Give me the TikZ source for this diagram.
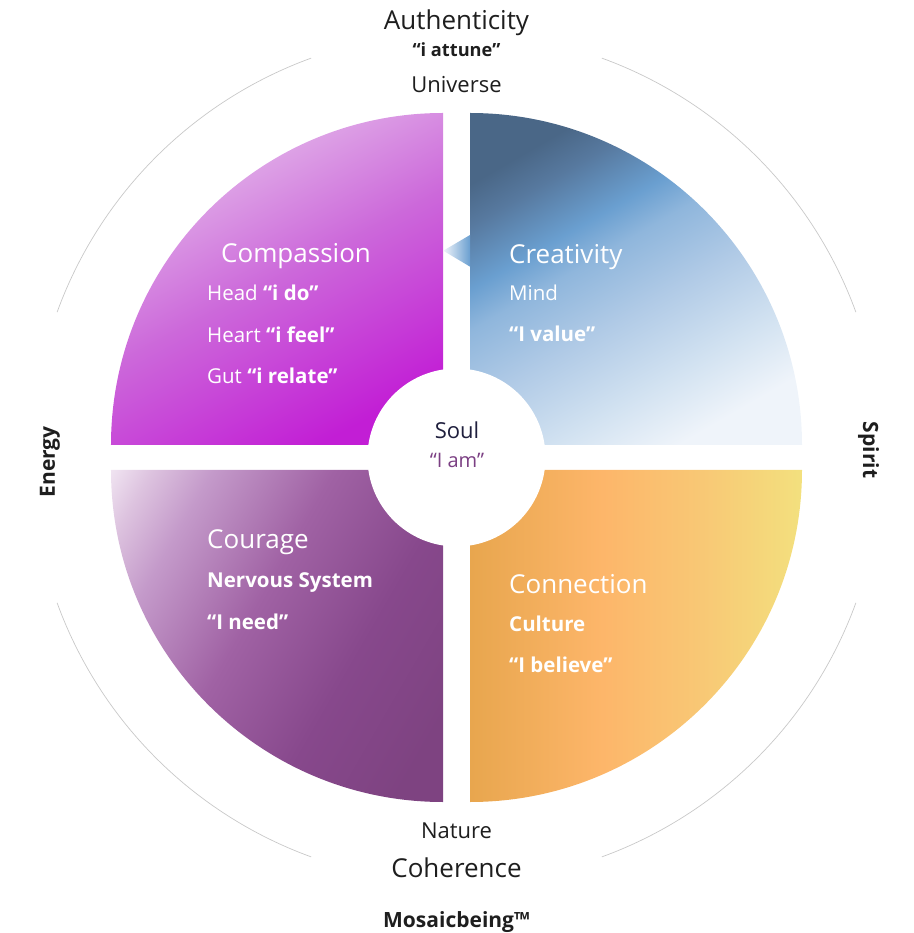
\documentclass[tikz,border=0pt]{standalone}
\usepackage{fontspec}
\setmainfont{Open Sans}
\usetikzlibrary{positioning}

\definecolor{compLight}{HTML}{E6C0EC}
\definecolor{compMid}{HTML}{CC68DA}
\definecolor{compDark}{HTML}{C21ED5}
\definecolor{creaDark}{HTML}{4A6787}
\definecolor{creaDusk}{HTML}{57799F}
\definecolor{creaMid}{HTML}{6A9FD0}
\definecolor{creaSoft}{HTML}{8FB6DC}
\definecolor{creaPale}{HTML}{B0CAE6}
\definecolor{creaMist}{HTML}{D2E2F1}
\definecolor{creaLight}{HTML}{EFF4FA}
\definecolor{courLight}{HTML}{F6EEF7}
\definecolor{courPale}{HTML}{DDC3DF}
\definecolor{courSoft}{HTML}{C49ACA}
\definecolor{courMid}{HTML}{A062A4}
\definecolor{courDeep}{HTML}{87488C}
\definecolor{courDark}{HTML}{7E4381}
\definecolor{connLeft}{HTML}{E8A64E}
\definecolor{connMid}{HTML}{FDB66A}
\definecolor{connWarm}{HTML}{F8C875}
\definecolor{connRight}{HTML}{F3E07E}
\definecolor{ink}{HTML}{1E1E1E}
\definecolor{soulInk}{HTML}{1F1F3D}
\definecolor{amInk}{HTML}{7B3F83}
\definecolor{ringGray}{HTML}{C8C8C8}

% stops tuned to the part of each shading the quarter covers
\pgfdeclareverticalshading{creaShade}{100bp}{color(0bp)=(creaLight); color(25bp)=(creaLight);
    color(34.5bp)=(creaMist); color(46bp)=(creaPale); color(55.8bp)=(creaSoft);
    color(61.2bp)=(creaMid); color(69.5bp)=(creaDusk); color(75bp)=(creaDark); color(100bp)=(creaDark)}
\pgfdeclareverticalshading{courShade}{100bp}{color(0bp)=(courDark); color(22bp)=(courDark);
    color(38bp)=(courDeep); color(55bp)=(courMid); color(71bp)=(courSoft);
    color(79bp)=(courPale); color(86bp)=(courLight); color(100bp)=(courLight)}
\pgfdeclareverticalshading{connShade}{100bp}{color(0bp)=(connRight); color(25bp)=(connRight);
    color(40bp)=(connWarm); color(55bp)=(connMid); color(75bp)=(connLeft); color(100bp)=(connLeft)}

\begin{document}
\begin{tikzpicture}[
    x=1pt, y=1pt,
    qtitle/.style={
        text=white,
        font=\fontsize{26}{30}\selectfont,
        anchor=base west,
        inner sep=0pt
    },
    subline/.style={
        text=white,
        font=\fontsize{20.5}{24}\selectfont,
        anchor=base west,
        inner sep=0pt
    },
    boldline/.style={subline, font=\fontsize{20.5}{24}\selectfont\bfseries},
    outer/.style={
        text=ink,
        font=\fontsize{22}{26}\selectfont,
        anchor=base,
        inner sep=0pt
    },
    bigouter/.style={outer, font=\fontsize{26}{30}\selectfont},
    side/.style={text=ink, font=\fontsize{21}{25}\selectfont\bfseries, inner sep=0pt},
    ring/.style={draw=ringGray, line width=0.7pt}
]
\useasboundingbox (-456.5,-475.5) rectangle (456.5,457.5);

% quarters
\shade[top color=compLight, bottom color=compDark, middle color=compMid, shading angle=28]
    (-13.5,12.5) -- (-345.5,12.5) arc[start angle=180, end angle=90, radius=332] -- cycle;
\shade[shading=creaShade, shading angle=30]
    (13.5,12.5) -- (13.5,344.5) arc[start angle=90, end angle=0, radius=332] -- cycle;
\shade[shading=connShade, shading angle=90]
    (13.5,-12.5) -- (345.5,-12.5) arc[start angle=0, end angle=-90, radius=332] -- cycle;
\shade[shading=courShade, shading angle=60]
    (-13.5,-12.5) -- (-13.5,-344.5) arc[start angle=270, end angle=180, radius=332] -- cycle;

% pointer
\shade[top color=creaLight, bottom color=creaMid, shading angle=90]
    (-13.2,206.8) -- (13.5,222.5) -- (13.5,190.8) -- cycle;

% centre
\fill[white] (0,0) circle[radius=89];

% outer ring
\foreach \a in {20,110,200,290}
    \draw[ring] (\a:425) arc[start angle=\a, end angle=\a+50, radius=425];

% compassion
\node[qtitle] (compassion) at (-235.5,194.5) {Compassion};
\node[subline] (head) at (-249.5,156.5) {Head \textbf{“i do”}};
\node[below=41.5pt of head.base west, subline] (heart) {Heart \textbf{“i feel”}};
\node[below=41.5pt of heart.base west, subline] (gut) {Gut \textbf{“i relate”}};

% creativity
\node[qtitle] (creativity) at (52.5,193.5) {Creativity};
\node[below=37pt of creativity.base west, subline] (mind) {Mind};
\node[below=41pt of mind.base west, boldline] (value) {“I value”};

% courage
\node[qtitle] (courage) at (-249.5,-91.5) {Courage};
\node[below=38pt of courage.base west, boldline] (nervous) {Nervous System};
\node[below=42pt of nervous.base west, boldline] (need) {“I need”};

% connection
\node[qtitle] (connection) at (52.5,-135.5) {Connection};
\node[below=38pt of connection.base west, boldline] (culture) {Culture};
\node[below=41pt of culture.base west, boldline] (believe) {“I believe”};

% soul
\node[outer, text=soulInk] (soul) at (0.5,18.5) {Soul};
\node[outer, text=amInk, font=\fontsize{20}{24}\selectfont] (iam) at (0.5,-10.5) {“I am”};

% top and bottom
\node[bigouter] (authenticity) at (0,427.5) {Authenticity};
\node[outer, font=\fontsize{18.2}{22}\selectfont\bfseries] (attune) at (0,400.5) {“i attune”};
\node[outer] (universe) at (0,364.5) {Universe};
\node[outer] (nature) at (0,-380.5) {Nature};
\node[bigouter] (coherence) at (0,-419.5) {Coherence};
\node[outer, font=\fontsize{21}{25}\selectfont\bfseries] (brand) at (0,-469.5) {Mosaicbeing™};

% sides
\node[side, rotate=90] (energy) at (-406.5,-4.5) {Energy};
\node[side, rotate=-90] (spirit) at (412,7.5) {Spirit};

\end{tikzpicture}
\end{document}
